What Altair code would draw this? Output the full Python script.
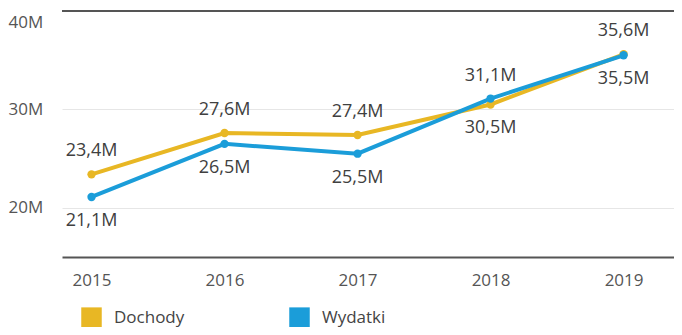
import altair as alt
import pandas as pd

years = [2015, 2016, 2017, 2018, 2019]
dochody = [23.4, 27.6, 27.4, 30.5, 35.6]
wydatki = [21.1, 26.5, 25.5, 31.1, 35.5]
pos_dochody = ["above", "above", "above", "below", "above"]
pos_wydatki = ["below", "below", "below", "above", "below"]
series_names = ["Dochody", "Wydatki"]
series_colors = ["#E8B724", "#1B9DD9"]
y_ticks = [20, 30, 40]

rows = []
for name, vals, poss in [("Dochody", dochody, pos_dochody), ("Wydatki", wydatki, pos_wydatki)]:
    for yr, v, p in zip(years, vals, poss):
        rows.append({"year": yr, "series": name, "value": v, "pos": p,
                     "label": f"{v:.1f}".replace(".", ",") + "M"})
df = pd.DataFrame(rows)

FONT = "Open Sans"
W, H = 612, 246

x = alt.X("year:Q",
          scale=alt.Scale(domain=[2014.778, 2019.379], nice=False, zero=False),
          axis=alt.Axis(values=years, format="d", title=None, grid=False, ticks=False, tickSize=0,
                        domain=True, domainColor="#555555", domainWidth=2,
                        labelFont=FONT, labelFontSize=17, labelColor="#555555", labelPadding=15))
y = alt.Y("value:Q",
          scale=alt.Scale(domain=[15, 40], nice=False, zero=False),
          axis=alt.Axis(values=y_ticks, labelExpr="datum.value + 'M'", title=None,
                        grid=True, gridColor="#E6E6E6", gridWidth=1, domain=False,
                        ticks=False, tickSize=0, labelAlign="left", labelPadding=54,
                        labelBaseline={"condition": {"test": "datum.value == 40", "value": "top"},
                                       "value": "middle"},
                        labelOffset={"condition": {"test": "datum.value == 40", "value": 3},
                                     "value": 0},
                        labelFont=FONT, labelFontSize=17, labelColor="#555555"))
color_scale = alt.Scale(domain=series_names, range=series_colors)
legend = alt.Legend(title=None, orient="none", legendX=19, legendY=296,
                    direction="horizontal", symbolType="square",
                    symbolSize=420, symbolStrokeWidth=0, padding=0,
                    labelFont=FONT, labelFontSize=17, labelColor="#444444",
                    labelOffset=12, columnPadding=104)
color = alt.Color("series:N", scale=color_scale, legend=legend)

base = alt.Chart(df)

line = base.mark_line(strokeWidth=4).encode(x=x, y=y, color=color)

points = base.mark_point(filled=True, size=70, opacity=1).encode(x=x, y=y, color=color)

top_rule = alt.Chart(df).mark_rule(color="#555555", strokeWidth=2).encode(
    y=alt.datum(40), x=alt.value(0), x2=alt.value(W))

above = base.transform_filter(alt.datum.pos == "above").mark_text(
    font=FONT, fontSize=18, color="#404040", dy=-23, baseline="middle").encode(
    x=x, y=y, text="label:N")
below = base.transform_filter(alt.datum.pos == "below").mark_text(
    font=FONT, fontSize=18, color="#404040", dy=24, baseline="middle").encode(
    x=x, y=y, text="label:N")

chart = alt.layer(line, points, above, below, top_rule).properties(
    width=W, height=H,
    autosize=alt.AutoSizeParams(type="none"),
    padding={"left": 54, "top": 3, "right": 0, "bottom": 70},
    background="white",
).configure_view(stroke=None)

chart.save("out.html", embed_options={"renderer": "svg", "actions": False})
